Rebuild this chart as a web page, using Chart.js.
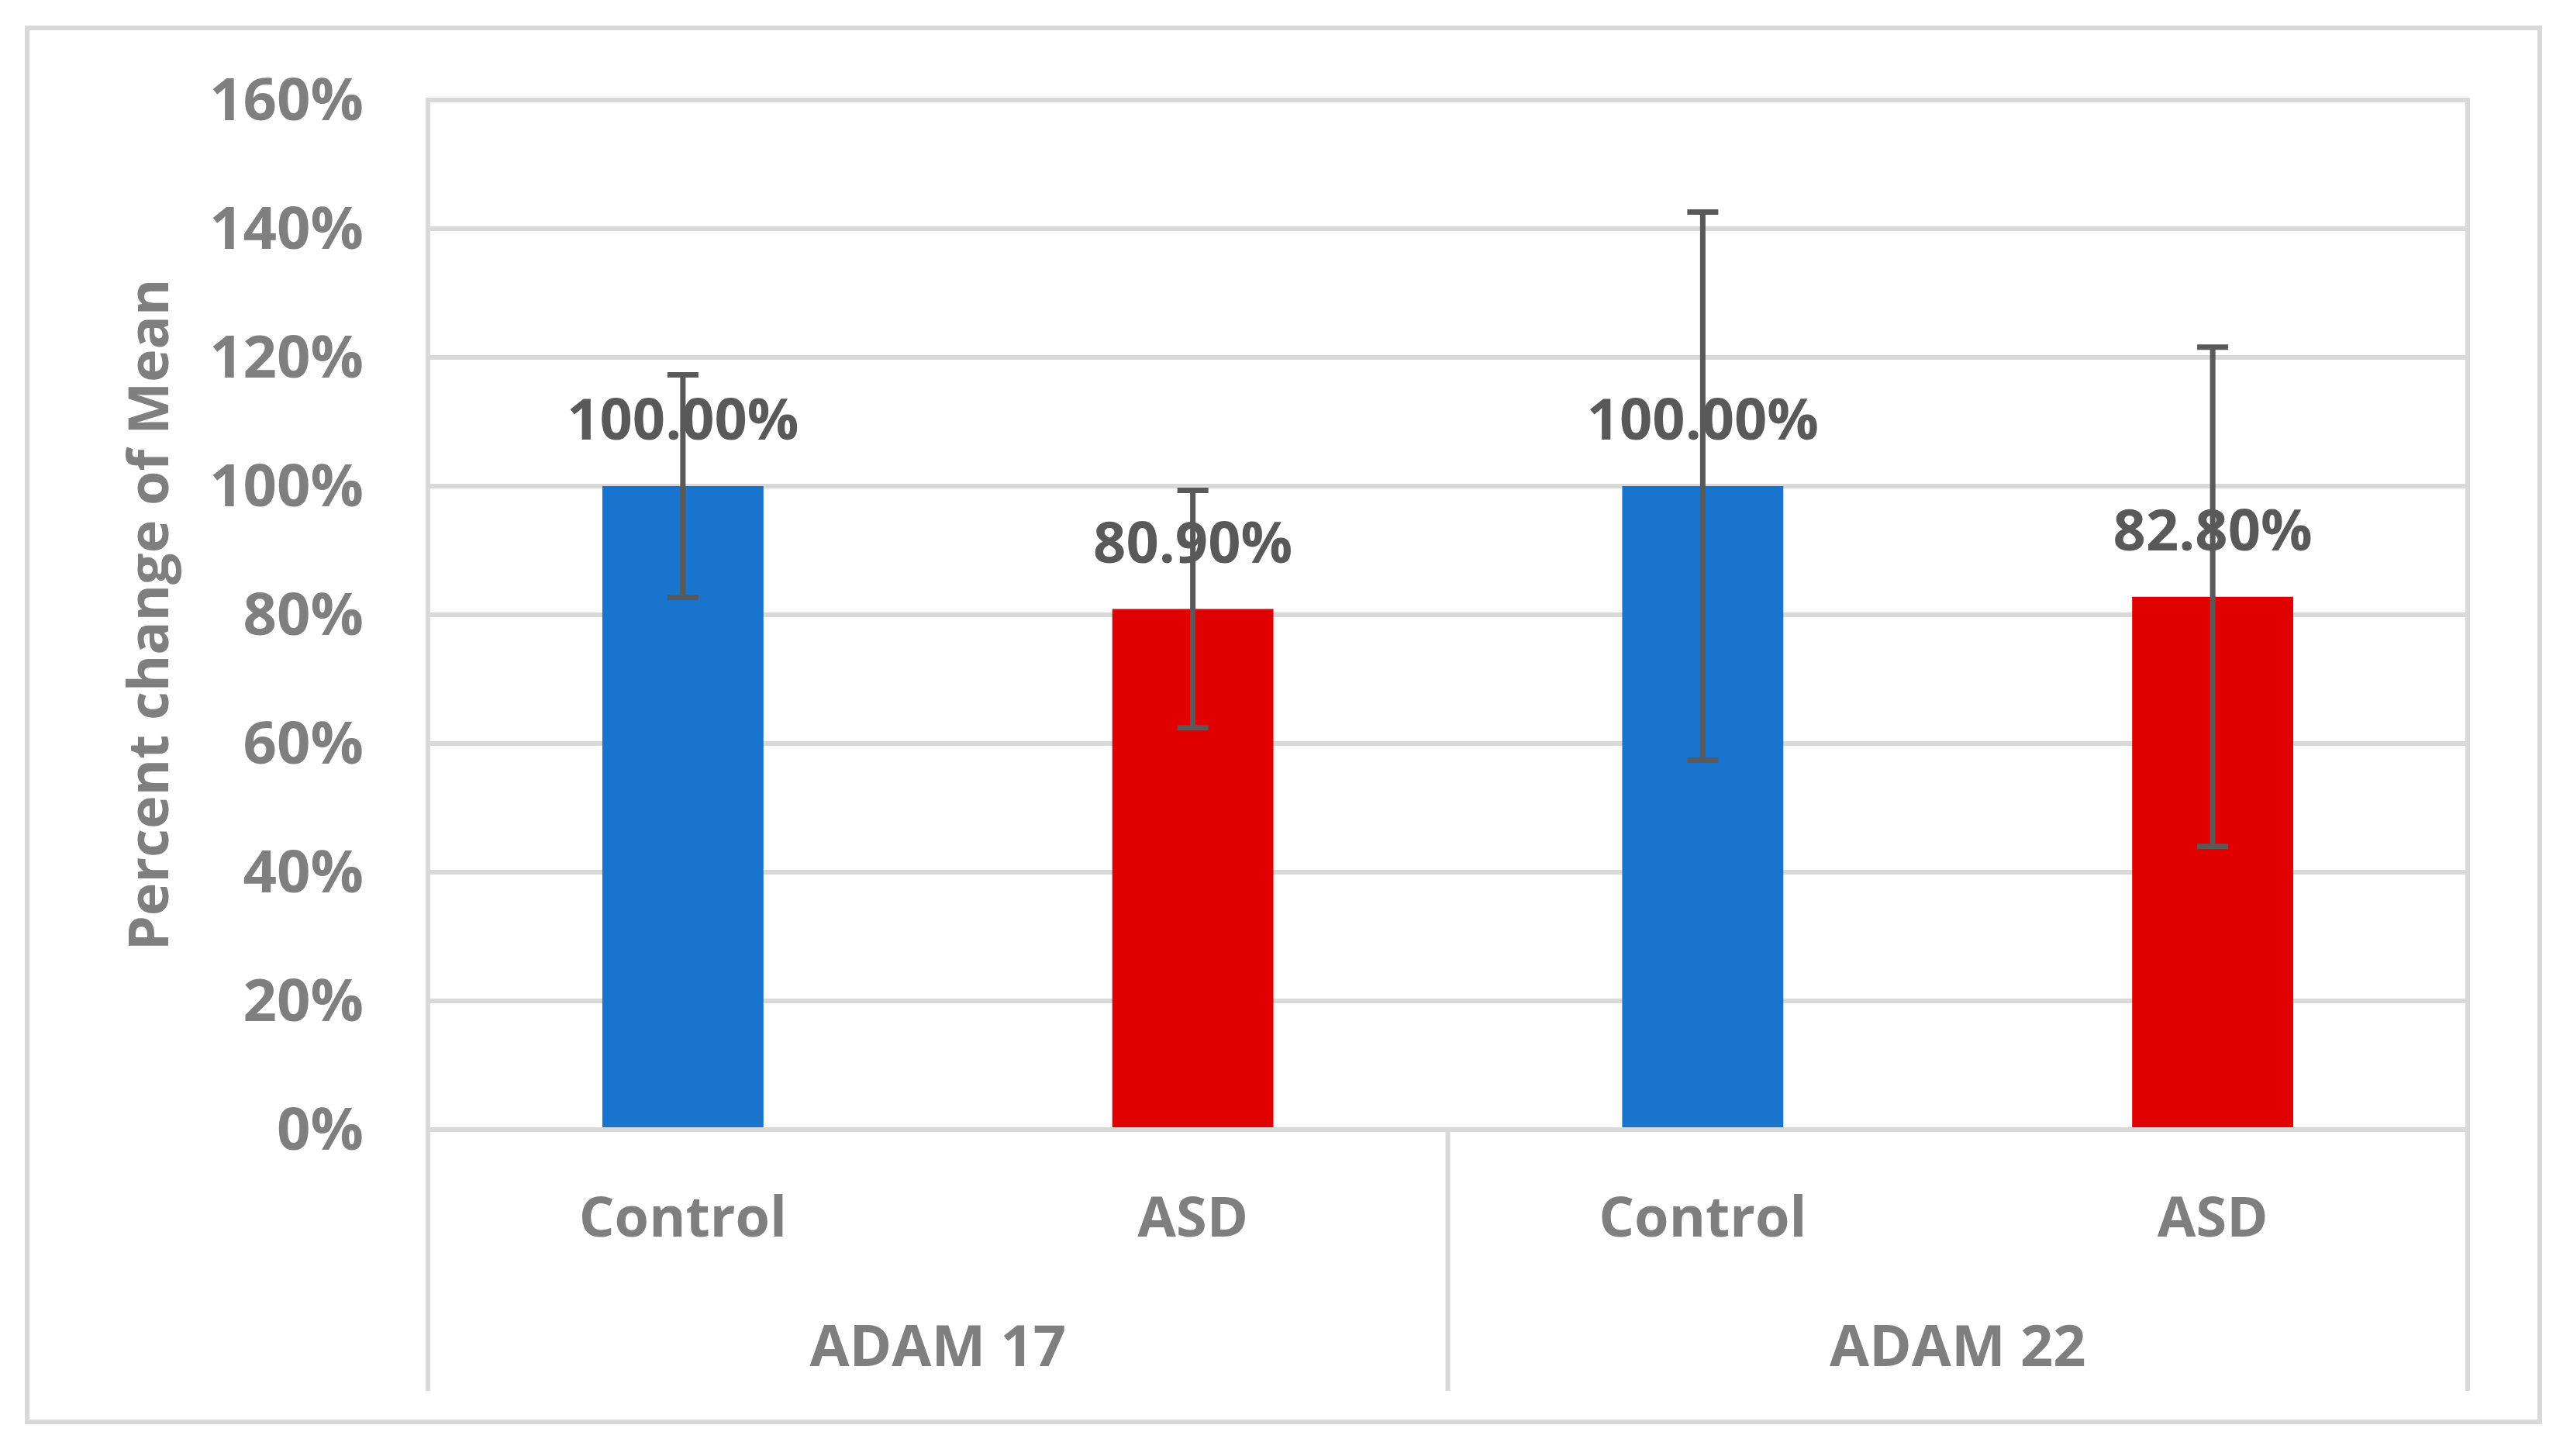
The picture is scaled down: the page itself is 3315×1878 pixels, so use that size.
<!DOCTYPE html>
<html>
<head>
<meta charset="utf-8">
<script src="https://cdn.jsdelivr.net/npm/chart.js@4.4.1/dist/chart.umd.min.js"></script>
<style>
    html, body { margin: 0; padding: 0; background: #ffffff; }
    canvas { display: block; }
</style>
</head>
<body>
<canvas id="adamChart" width="3315" height="1878"></canvas>
<script>
const categories = ['Control', 'ASD', 'Control', 'ASD'];
const groups = ['ADAM 17', 'ADAM 22'];
const meanValues = [100, 80.9, 100, 82.8];
const errorValues = [17.3, 18.45, 42.6, 38.8];
const barColors = ['#1874CD', '#E00000', '#1874CD', '#E00000'];
const yMin = 0;
const yMax = 160;
const yStep = 20;

const FONT = "'Open Sans', 'DejaVu Sans', sans-serif";
const LINE_GRAY = '#d9d9d9';
const TEXT_GRAY = '#7f7f7f';
const DARK_GRAY = '#595959';

// frame round the whole chart
const framePlugin = {
    id: 'frame',
    beforeDraw(chart) {
        const ctx = chart.ctx;
        ctx.save();
        ctx.fillStyle = '#ffffff';
        ctx.fillRect(0, 0, chart.width, chart.height);
        ctx.strokeStyle = LINE_GRAY;
        ctx.lineWidth = 6;
        ctx.strokeRect(35, 36, 3241, 1798);
        ctx.restore();
    }
};

// vertical separators and group labels under the category axis
const groupAxisPlugin = {
    id: 'groupAxis',
    afterDraw(chart) {
        const ctx = chart.ctx;
        const area = chart.chartArea;
        const x = chart.scales.x;
        const bottom = x.bottom;
        const groupSize = categories.length / groups.length;

        ctx.save();
        ctx.strokeStyle = LINE_GRAY;
        ctx.lineWidth = 6;
        const edges = [area.left, area.right];
        edges.forEach(px => {
            ctx.beginPath();
            ctx.moveTo(px, area.top - 3);
            ctx.lineTo(px, bottom);
            ctx.stroke();
        });
        for (let g = 1; g < groups.length; g++) {
            const px = (x.getPixelForValue(g * groupSize - 1) + x.getPixelForValue(g * groupSize)) / 2;
            ctx.beginPath();
            ctx.moveTo(px, area.bottom);
            ctx.lineTo(px, bottom);
            ctx.stroke();
        }

        ctx.fillStyle = TEXT_GRAY;
        ctx.font = `bold 74px ${FONT}`;
        ctx.textAlign = 'center';
        ctx.textBaseline = 'alphabetic';
        groups.forEach((name, g) => {
            const first = x.getPixelForValue(g * groupSize);
            const last = x.getPixelForValue(g * groupSize + groupSize - 1);
            ctx.fillText(name, (first + last) / 2, x.top + 305);
        });
        ctx.restore();
    }
};

// value labels, then error bars drawn over them
const barExtrasPlugin = {
    id: 'barExtras',
    afterDatasetsDraw(chart) {
        const ctx = chart.ctx;
        const y = chart.scales.y;
        const meta = chart.getDatasetMeta(0);

        ctx.save();
        ctx.fillStyle = DARK_GRAY;
        ctx.font = `bold 74px ${FONT}`;
        ctx.textAlign = 'center';
        ctx.textBaseline = 'alphabetic';
        meta.data.forEach((bar, i) => {
            ctx.fillText(meanValues[i].toFixed(2) + '%', bar.x, bar.y - 60);
        });

        ctx.strokeStyle = DARK_GRAY;
        ctx.lineWidth = 7;
        meta.data.forEach((bar, i) => {
            const top = y.getPixelForValue(meanValues[i] + errorValues[i]);
            const low = y.getPixelForValue(meanValues[i] - errorValues[i]);
            ctx.beginPath();
            ctx.moveTo(bar.x, top);
            ctx.lineTo(bar.x, low);
            ctx.moveTo(bar.x - 20, top);
            ctx.lineTo(bar.x + 20, top);
            ctx.moveTo(bar.x - 20, low);
            ctx.lineTo(bar.x + 20, low);
            ctx.stroke();
        });
        ctx.restore();
    }
};

const context = document.getElementById('adamChart').getContext('2d');
new Chart(context, {
    type: 'bar',
    data: {
        labels: categories,
        datasets: [{
            data: meanValues,
            backgroundColor: barColors,
            borderWidth: 0,
            categoryPercentage: 1,
            barPercentage: 0.316
        }]
    },
    options: {
        responsive: false,
        devicePixelRatio: 1,
        animation: false,
        layout: {
            padding: {left: 0, top: 129, right: 132, bottom: 84}
        },
        plugins: {
            legend: {display: false},
            tooltip: {enabled: false}
        },
        scales: {
            x: {
                grid: {display: false},
                border: {display: false},
                ticks: {
                    color: TEXT_GRAY,
                    font: {family: FONT, size: 72, weight: 'bold'},
                    padding: 66,
                    maxRotation: 0
                },
                afterFit: function (scale) {
                    scale.height = 337;
                }
            },
            y: {
                min: yMin,
                max: yMax,
                grid: {color: LINE_GRAY, lineWidth: 6, drawTicks: false},
                border: {display: false},
                ticks: {
                    stepSize: yStep,
                    color: TEXT_GRAY,
                    font: {family: FONT, size: 76, weight: 'bold'},
                    padding: 83,
                    labelOffset: 4,
                    callback: function (value) {
                        return value + '%';
                    }
                },
                title: {
                    display: true,
                    text: 'Percent change of Mean',
                    color: TEXT_GRAY,
                    font: {family: FONT, size: 72, weight: 'bold'},
                    padding: {top: 153, bottom: 0}
                },
                afterFit: function (scale) {
                    scale.width = 552;
                }
            }
        }
    },
    plugins: [framePlugin, groupAxisPlugin, barExtrasPlugin]
});
</script>
</body>
</html>
